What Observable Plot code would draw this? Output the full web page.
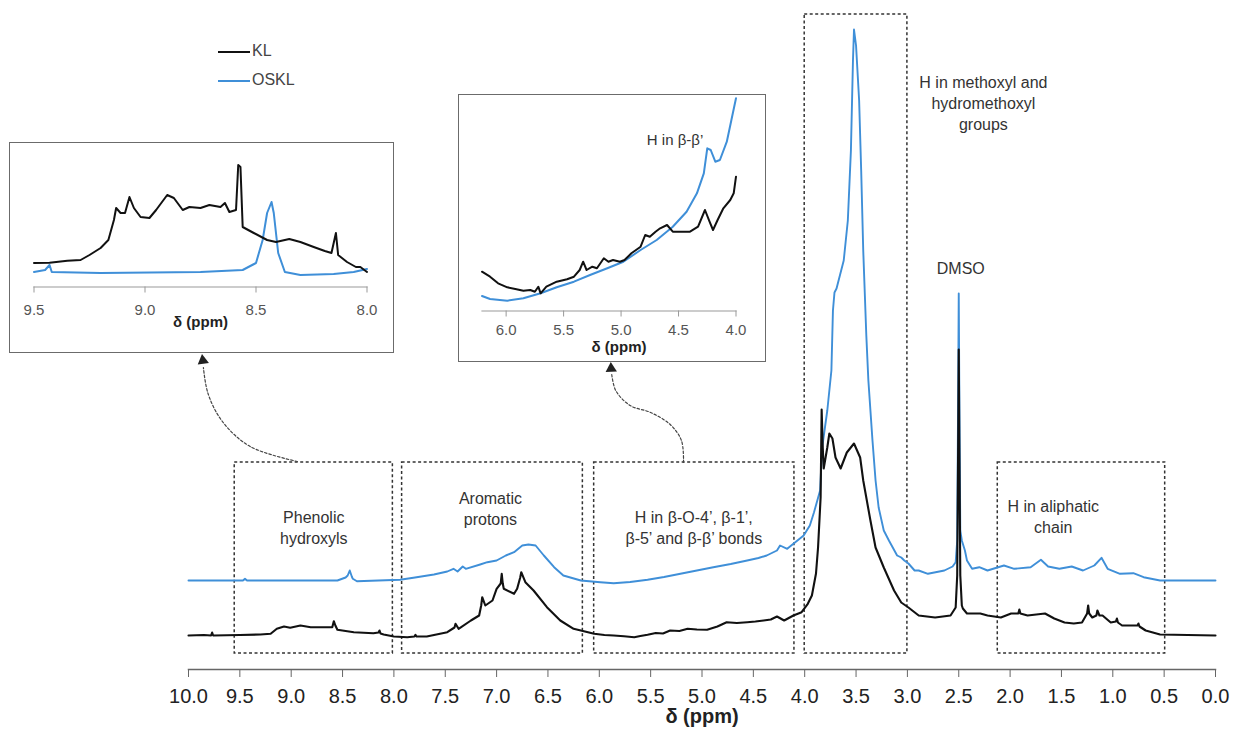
<!DOCTYPE html>
<html><head><meta charset="utf-8">
<script src="https://cdn.jsdelivr.net/npm/d3@7"></script>
<script src="https://cdn.jsdelivr.net/npm/@observablehq/plot@0.6"></script>
<style>
body{margin:0;background:#fff;font-family:"Liberation Sans",Arial,sans-serif;}
#wrap{position:relative;width:1235px;height:740px;overflow:hidden;background:#fff;}
#main{position:absolute;left:0;top:0;}
.inset{position:absolute;background:#fff;border:1.5px solid #6b6b6b;box-sizing:border-box;}
.inset svg{display:block;}
#legend{position:absolute;left:218px;top:36px;font-size:16px;color:#444;line-height:29px;}
#legend .sw{display:inline-block;width:32px;height:0;vertical-align:middle;margin-right:2px;}
</style></head><body>
<div id="wrap">
  <div id="main"></div>
  <div id="inset1" class="inset" style="left:9px;top:142px;width:385px;height:211px;"></div>
  <div id="inset2" class="inset" style="left:458px;top:94px;width:308px;height:268px;"></div>
  <div id="legend"></div>
</div>
<script>
// ---------- data ----------
const seriesNames = ["KL", "OSKL"];
const seriesColors = ["#111111", "#3f8fd8"];
const xTicksMain = [10,9.5,9,8.5,8,7.5,7,6.5,6,5.5,5,4.5,4,3.5,3,2.5,2,1.5,1,0.5,0];
const xTicksInset1 = [9.5,9,8.5,8];
const xTicksInset2 = [6,5.5,5,4.5,4];
const osklOffset = 55; // stacking offset of OSKL spectrum (intensity units)

// [ppm, intensity]
const klMain = [[10.00,0],[9.85,0.5],[9.78,0],[9.77,3],[9.76,0],[9.5,0.5],[9.3,1],[9.2,1.7],[9.14,6.7],[9.07,9],[9.01,7.7],[8.91,10],[8.81,8.3],[8.68,8.3],[8.60,8.3],[8.585,14.3],[8.57,10],[8.55,5.7],[8.39,3.3],[8.20,2.3],[8.15,3],[8.14,5],[8.13,2],[8.10,1],[8.00,-1],[7.87,-1.7],[7.80,-1],[7.79,0.7],[7.78,-1],[7.68,-1],[7.48,3.3],[7.41,8],[7.40,11.7],[7.37,6.7],[7.25,15],[7.17,20],[7.15,30],[7.14,38.3],[7.11,30],[7.04,35],[7.00,46.7],[6.96,52],[6.95,61.7],[6.94,52],[6.93,46.7],[6.83,41.7],[6.80,46.7],[6.77,58],[6.76,63.3],[6.72,53.3],[6.64,45],[6.51,28.3],[6.38,15],[6.25,6.7],[6.05,1.7],[5.95,0.5],[5.86,0],[5.76,-0.8],[5.66,-1.7],[5.60,-0.5],[5.53,0.7],[5.45,2.5],[5.38,2],[5.31,5],[5.22,4.5],[5.14,6.7],[5.05,6],[4.95,5.7],[4.85,9],[4.76,13.3],[4.66,12.5],[4.56,13.3],[4.48,14],[4.40,15],[4.33,16],[4.27,19],[4.20,15],[4.11,20],[4.03,23.3],[3.97,31.7],[3.93,40],[3.89,62],[3.87,88],[3.855,118],[3.845,138],[3.835,226],[3.825,190],[3.815,167],[3.78,188],[3.76,202],[3.73,197],[3.70,178],[3.65,167],[3.59,183],[3.52,192],[3.46,178],[3.43,155],[3.36,115],[3.31,88],[3.23,68],[3.13,45],[3.06,33],[2.99,28],[2.89,20],[2.73,18],[2.58,20],[2.53,28],[2.515,60],[2.505,200],[2.50,286],[2.495,200],[2.485,60],[2.47,30],[2.46,27],[2.42,22],[2.29,22],[2.22,20],[2.09,18],[1.99,22],[1.92,22],[1.91,26],[1.90,22],[1.83,20],[1.66,22],[1.57,17],[1.47,13],[1.38,12],[1.30,13],[1.25,22],[1.24,30],[1.23,22],[1.20,18],[1.16,20],[1.15,25],[1.13,20],[1.10,20],[1.02,13],[0.97,14],[0.96,17],[0.95,13],[0.91,10],[0.83,10],[0.76,10],[0.75,12],[0.74,9],[0.68,5],[0.54,1],[0.00,0]];

const osklMain = [[10.00,0],[9.47,0],[9.45,1.7],[9.43,0],[8.55,0],[8.47,3],[8.45,5],[8.43,10],[8.41,4],[8.40,1.7],[8.36,-0.7],[7.94,0.7],[7.81,2.7],[7.61,6],[7.48,9],[7.42,11.7],[7.38,9],[7.33,14],[7.30,11.7],[7.16,16],[7.09,18.3],[7.00,20],[6.91,25],[6.83,28.3],[6.75,35],[6.69,36],[6.62,35],[6.54,25],[6.44,13.3],[6.35,5],[6.18,0],[5.99,-1.7],[5.86,-2.7],[5.70,-1.5],[5.53,0.7],[5.37,3.5],[5.21,6.7],[5.05,10],[4.89,13.3],[4.72,16.5],[4.56,20],[4.45,22.5],[4.37,25],[4.27,30],[4.24,35],[4.17,31.7],[4.11,36.7],[4.01,45],[3.95,55],[3.91,68],[3.85,90],[3.83,133],[3.78,170],[3.74,210],[3.725,270],[3.71,288],[3.69,292],[3.62,320],[3.58,360],[3.55,430],[3.53,520],[3.52,551],[3.50,535],[3.47,480],[3.45,410],[3.43,330],[3.40,245],[3.38,200],[3.34,140],[3.31,100],[3.28,73],[3.23,50],[3.18,40],[3.10,25],[3.06,23],[3.03,20],[2.99,17],[2.93,10],[2.89,10],[2.80,6.7],[2.64,10],[2.56,14],[2.53,18.3],[2.515,40],[2.505,200],[2.50,287],[2.495,200],[2.485,50],[2.47,40],[2.44,30],[2.42,20],[2.37,11.7],[2.30,13.3],[2.22,10],[2.06,15],[1.96,11.7],[1.80,13.3],[1.70,20.7],[1.63,14],[1.52,11.7],[1.40,14],[1.29,10],[1.18,15],[1.11,22.7],[1.05,11.7],[0.93,6.7],[0.80,7.3],[0.70,3.3],[0.54,0],[0.00,0]];

const klInset1 = [[9.50,24],[9.43,24.3],[9.35,26.3],[9.29,27],[9.25,32],[9.20,39],[9.165,47],[9.14,67],[9.13,79],[9.11,74],[9.09,74],[9.07,90],[9.05,79],[9.02,70],[8.98,69],[8.95,77],[8.90,92],[8.87,89],[8.83,77],[8.80,80],[8.75,79],[8.71,82],[8.66,80],[8.64,84],[8.62,75],[8.59,77],[8.58,122],[8.57,120],[8.56,60],[8.51,54],[8.45,47],[8.41,45],[8.35,48],[8.30,45],[8.24,40],[8.19,36],[8.16,34],[8.14,54],[8.13,32],[8.09,25],[8.05,20],[8.03,20],[8.00,15]];
const osklInset1 = [[9.50,15],[9.45,17],[9.43,22],[9.42,15],[9.20,14],[8.75,15],[8.56,17],[8.50,24],[8.47,47],[8.45,74],[8.43,85],[8.42,74],[8.40,34],[8.37,15],[8.30,12],[8.15,13],[8.06,15],[8.00,18]];

const klInset2 = [[6.21,39.3],[6.14,34.3],[6.07,27.7],[5.99,23.7],[5.91,21.7],[5.85,20.3],[5.79,21],[5.75,19.3],[5.72,24.3],[5.70,17.7],[5.65,24.3],[5.56,29.3],[5.47,31.7],[5.41,34.3],[5.36,41],[5.33,49.3],[5.30,41],[5.25,44.3],[5.21,42.7],[5.15,52.7],[5.11,49.3],[5.07,51],[5.01,49.3],[4.97,51],[4.91,57.7],[4.83,64.3],[4.79,76],[4.75,74.3],[4.70,79.3],[4.66,82.7],[4.60,86],[4.55,79.3],[4.49,79.3],[4.40,79.3],[4.33,84.3],[4.27,101],[4.23,89.3],[4.20,81],[4.16,91],[4.11,102.7],[4.05,111],[4.02,117.7],[4.00,134.3]];
const osklInset2 = [[6.21,15],[6.14,12],[5.99,10.3],[5.85,12.7],[5.70,17.7],[5.56,23.7],[5.41,29.3],[5.27,36],[5.12,42.7],[4.98,49.3],[4.83,61],[4.69,71],[4.55,84.3],[4.43,99.3],[4.34,117.7],[4.28,137.7],[4.25,162.7],[4.22,161],[4.18,149.3],[4.14,151],[4.08,169.3],[4.04,191],[4.00,212.7]];

// chemical-shift regions (ppm) and annotations
const regionFrom = [9.55, 7.92, 6.05, 4.00, 2.12];
const regionTo   = [8.01, 6.16, 4.10, 3.00, 0.49];
const regionTop  = [173, 173, 173, 621, 173];
const regionLabels = ["Phenolic\nhydroxyls", "Aromatic\nprotons", "H in β-O-4’, β-1’,\nβ-5’ and β-β’ bonds", "H in methoxyl and\nhydromethoxyl\ngroups", "H in aliphatic\nchain", "DMSO"];
const labelPpm = [8.78, 7.06, 5.08, 2.26, 1.58, 2.48];
const labelInt = [109, 128, 109, 533, 120, 368];
const inset2Label = "H in β-β’";

// ---------- build ----------
const font = '"Liberation Sans", Arial, Helvetica, sans-serif';
const pts = a => a.map(([x, y]) => ({x, y}));
const klM = pts(klMain);
const osM = osklMain.map(([x, y]) => ({x, y: y + osklOffset}));
const boxes = regionFrom.map((f, i) => ({x1: f, x2: regionTo[i], y1: -18, y2: regionTop[i]}));
const labels = regionLabels.map((t, i) => ({t, x: labelPpm[i], y: labelInt[i]}));

// connector arrows (main-chart coordinates: ppm, intensity)
const arrowA = pts([[8.94,174],[9.40,189],[9.67,214],[9.81,242],[9.855,268]]);
const arrowB = pts([[5.18,173],[5.20,195],[5.31,211],[5.50,223],[5.70,230],[5.84,245],[5.88,262]]);
const heads = [{x: 9.86, y: 275, r: -8}, {x: 5.885, y: 267, r: -3}];

const main = Plot.plot({
  width: 1235, height: 740,
  marginLeft: 188, marginRight: 20, marginTop: 0, marginBottom: 71,
  style: {fontFamily: font, background: "transparent"},
  x: {domain: [10, 0]},
  y: {domain: [0, 635], range: [635, 0], axis: null},
  marks: [
    Plot.rect(boxes, {x1: "x1", x2: "x2", y1: "y1", y2: "y2", fill: "none", stroke: "#333", strokeWidth: 1.5, strokeDasharray: "3,2.5"}),
    Plot.line(arrowA, {x: "x", y: "y", curve: "catmull-rom", stroke: "#444", strokeWidth: 1.2, strokeDasharray: "2.5,2"}),
    Plot.line(arrowB, {x: "x", y: "y", curve: "catmull-rom", stroke: "#444", strokeWidth: 1.2, strokeDasharray: "2.5,2"}),
    Plot.dot(heads, {x: "x", y: "y", rotate: "r", symbol: "triangle", r: 4.2, fill: "#222", stroke: null}),
    Plot.line(osM, {x: "x", y: "y", stroke: seriesColors[1], strokeWidth: 1.9, strokeLinejoin: "round"}),
    Plot.line(klM, {x: "x", y: "y", stroke: seriesColors[0], strokeWidth: 2.1, strokeLinejoin: "round"}),
    Plot.text(labels, {x: "x", y: "y", text: "t", fontSize: 16, lineHeight: 1.3, fill: "#333"}),
    Plot.frame({anchor: "bottom", stroke: "#666", strokeWidth: 1.5}),
    Plot.axisX({ticks: xTicksMain, tickFormat: d => d.toFixed(1), tickSize: 8, tickPadding: 11, fontSize: 20, stroke: "#666", fill: "#222", label: null}),
    Plot.text(["δ (ppm)"], {text: d => d, frameAnchor: "bottom", dy: 53, fontSize: 20, fontWeight: "bold", fill: "#222"})
  ]
});
document.getElementById("main").append(main);

const in1 = Plot.plot({
  width: 382, height: 208,
  marginLeft: 23.5, marginRight: 25.5, marginTop: 0, marginBottom: 64.5,
  style: {fontFamily: font, background: "#fff"},
  x: {domain: [9.5, 8.0]},
  y: {domain: [0, 100], range: [143.5, 43.5], axis: null},
  marks: [
    Plot.line(pts(osklInset1), {x: "x", y: "y", stroke: seriesColors[1], strokeWidth: 2, strokeLinejoin: "round"}),
    Plot.line(pts(klInset1), {x: "x", y: "y", stroke: seriesColors[0], strokeWidth: 2, strokeLinejoin: "round"}),
    Plot.frame({anchor: "bottom", stroke: "#999", strokeWidth: 1.2}),
    Plot.axisX({ticks: xTicksInset1, tickFormat: d => d.toFixed(1), tickSize: 6, tickPadding: 11, fontSize: 15, stroke: "#999", fill: "#555", label: null}),
    Plot.text(["δ (ppm)"], {text: d => d, frameAnchor: "bottom", dy: 40, fontSize: 15, fontWeight: "bold", fill: "#222"})
  ]
});
document.getElementById("inset1").append(in1);

const in2 = Plot.plot({
  width: 305, height: 265,
  marginLeft: 22.5, marginRight: 28.5, marginTop: 0, marginBottom: 49.5,
  style: {fontFamily: font, background: "#fff"},
  x: {domain: [6.21, 4.0]},
  y: {domain: [0, 100], range: [215.5, 115.5], axis: null},
  marks: [
    Plot.line(pts(osklInset2), {x: "x", y: "y", stroke: seriesColors[1], strokeWidth: 2, strokeLinejoin: "round"}),
    Plot.line(pts(klInset2), {x: "x", y: "y", stroke: seriesColors[0], strokeWidth: 2, strokeLinejoin: "round"}),
    Plot.text([inset2Label], {text: d => d, x: 4.53, y: 171, fontSize: 15, fill: "#333"}),
    Plot.frame({anchor: "bottom", stroke: "#999", strokeWidth: 1.2}),
    Plot.axisX({ticks: xTicksInset2, tickFormat: d => d.toFixed(1), tickSize: 6, tickPadding: 7, fontSize: 15, stroke: "#999", fill: "#555", label: null}),
    Plot.text(["δ (ppm)"], {text: d => d, frameAnchor: "bottom", dy: 41, dx: 10, fontSize: 15, fontWeight: "bold", fill: "#222"})
  ]
});
document.getElementById("inset2").append(in2);

// legend
const lg = document.getElementById("legend");
seriesNames.forEach((n, i) => {
  const row = document.createElement("div");
  row.innerHTML = `<span class="sw" style="border-top:2.5px solid ${seriesColors[i]}"></span>${n}`;
  lg.append(row);
});
</script>
</body></html>
